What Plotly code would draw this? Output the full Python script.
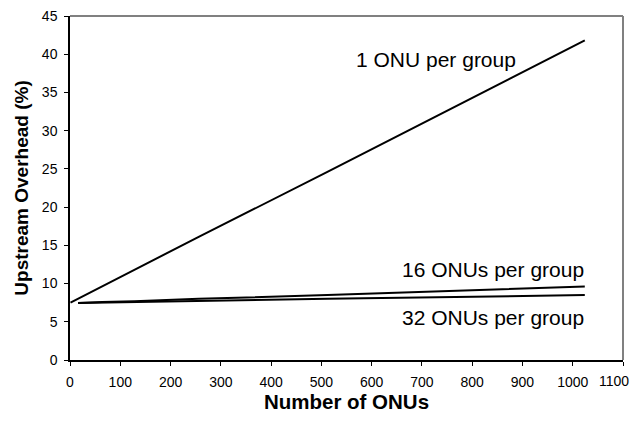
import plotly.graph_objects as go

n_1 = [1, 16, 32, 64, 128, 256, 512, 1024]
ovh_1 = [7.5, 8.0, 8.5, 9.6, 11.8, 16.1, 24.6, 41.8]
n_16 = [16, 32, 64, 128, 256, 512, 1024]
ovh_16 = [7.45, 7.5, 7.6, 7.7, 8.0, 8.5, 9.6]
n_32 = [16, 32, 64, 128, 256, 512, 1024]
ovh_32 = [7.45, 7.47, 7.5, 7.6, 7.7, 8.0, 8.5]

x_ticks = [0, 100, 200, 300, 400, 500, 600, 700, 800, 900, 1000, 1100]
y_ticks = [0, 5, 10, 15, 20, 25, 30, 35, 40, 45]

labels = ["1 ONU per group", "16 ONUs per group", "32 ONUs per group"]
label_x = [728, 841, 841]
label_y = [39.3, 11.9, 5.5]

FONT = "Liberation Sans, Arial"

fig = go.Figure()
for xs, ys in [(n_1, ovh_1), (n_16, ovh_16), (n_32, ovh_32)]:
    fig.add_trace(go.Scatter(x=xs, y=ys, mode="lines",
                             line=dict(color="black", width=2), showlegend=False))

for t, x, y in zip(labels, label_x, label_y):
    fig.add_annotation(x=x, y=y, text=t, showarrow=False,
                       font=dict(family=FONT, size=21, color="black"))

# last x tick label placed as an annotation so it stays inside the page
x_ticktext = [str(v) for v in x_ticks[:-1]] + [""]
fig.add_annotation(x=x_ticks[-1], y=0, yref="paper", text=str(x_ticks[-1]),
                   showarrow=False, xanchor="right", yanchor="top",
                   xshift=8, yshift=-11, font=dict(family=FONT, size=14, color="black"))

# gray top and right frame lines
fig.add_shape(type="line", xref="paper", yref="paper", x0=0, y0=1, x1=1, y1=1,
              line=dict(color="#808080", width=2), layer="above")
fig.add_shape(type="line", xref="paper", yref="paper", x0=1, y0=0, x1=1, y1=1,
              line=dict(color="#808080", width=2), layer="above")

# page body has an 8px margin, so the figure is sized/offset to compensate
fig.update_layout(
    width=624, height=405,
    margin=dict(l=62, r=9, t=8, b=53),
    paper_bgcolor="white", plot_bgcolor="white",
    font=dict(family=FONT, size=14, color="black"),
)
fig.update_xaxes(range=[0, 1100], tickvals=x_ticks, ticktext=x_ticktext,
                 showgrid=False, zeroline=False,
                 showline=True, linecolor="black", linewidth=1.5,
                 ticks="outside", ticklen=4, tickcolor="black", automargin=False,
                 ticklabeloverflow="allow", ticklabelstandoff=4,
                 title=dict(text="<b>Number of ONUs</b>", font=dict(size=20.5), standoff=18))
fig.update_yaxes(range=[0, 45], tickvals=y_ticks, showgrid=False, zeroline=False,
                 showline=True, linecolor="black", linewidth=1.5,
                 ticks="outside", ticklen=4, tickcolor="black", automargin=False,
                 ticklabeloverflow="allow", ticklabelstandoff=4,
                 title=dict(text="<b>Upstream Overhead (%)</b>", font=dict(size=19), standoff=8))

fig.write_html("out.html")
